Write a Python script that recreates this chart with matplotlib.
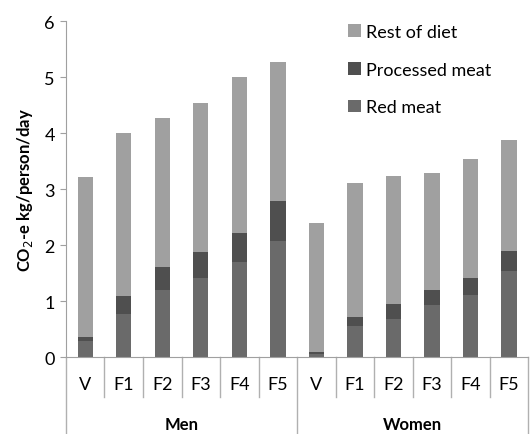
import matplotlib
matplotlib.use('Agg')
import matplotlib.pyplot as plt
from matplotlib.transforms import blended_transform_factory
import numpy as np

plt.rcParams['font.family'] = ['Lato', 'DejaVu Sans']

groups = ['Men', 'Women']
diets = ['V', 'F1', 'F2', 'F3', 'F4', 'F5']
red_meat = [0.28, 0.77, 1.20, 1.41, 1.69, 2.08,
            0.05, 0.55, 0.68, 0.93, 1.10, 1.54]
processed_meat = [0.07, 0.32, 0.40, 0.47, 0.53, 0.70,
                  0.04, 0.16, 0.26, 0.27, 0.31, 0.35]
total = [3.21, 4.00, 4.27, 4.54, 5.00, 5.27,
         2.39, 3.11, 3.24, 3.28, 3.54, 3.88]
rest_of_diet = [t - r - p for t, r, p in zip(total, red_meat, processed_meat)]

c_rest = '#a0a0a0'
c_proc = '#4f4f4f'
c_red = '#6a6a6a'

fig = plt.figure(figsize=(5.3, 4.35), dpi=100)
ax = fig.add_axes([0.1245, 0.177, 0.872, 0.772])

x = np.arange(len(total))
w = 0.4
b1 = ax.bar(x, red_meat, w, color=c_red, label='Red meat')
b2 = ax.bar(x, processed_meat, w, bottom=red_meat, color=c_proc, label='Processed meat')
bottom2 = [r + p for r, p in zip(red_meat, processed_meat)]
b3 = ax.bar(x, rest_of_diet, w, bottom=bottom2, color=c_rest, label='Rest of diet')

ax.set_xlim(-0.5, len(total) - 0.5)
ax.set_ylim(0, 6)
ax.set_yticks(range(7))
ax.tick_params(axis='y', labelsize=13, length=4, color='#a0a0a0', pad=4)
ax.set_xticks([])
for s in ['top', 'right']:
    ax.spines[s].set_visible(False)
ax.spines['left'].set_color('#a0a0a0')
ax.spines['bottom'].set_color('#a0a0a0')

ax.set_ylabel('CO$_2$-e kg/person/day', fontsize=12, fontweight='bold', labelpad=7)

# two-level category axis
tr = blended_transform_factory(ax.transData, ax.transAxes)
labels = diets * len(groups)
for i, lab in enumerate(labels):
    ax.text(i, -0.08, lab, transform=tr, ha='center', va='center', fontsize=13)
for i in range(len(total) + 1):
    xs = i - 0.5
    if i % len(diets) == 0:
        y_end = -0.24
    else:
        y_end = -0.12
    ax.plot([xs, xs], [0, y_end], transform=tr, color='#b0b0b0', lw=1, clip_on=False)
for g, name in enumerate(groups):
    xc = g * len(diets) + (len(diets) - 1) / 2
    ax.text(xc, -0.2, name, transform=tr, ha='center', va='center',
            fontsize=12, fontweight='bold')

ax.legend(handles=[b3, b2, b1], loc='upper left',
          bbox_to_anchor=(348 / 530, 1 - 25 / 435), bbox_transform=fig.transFigure,
          frameon=False, fontsize=13, handlelength=0.7, handleheight=0.7,
          handletextpad=0.3, labelspacing=1.2, borderaxespad=0, borderpad=0)

fig.savefig('out.png', dpi=100)
